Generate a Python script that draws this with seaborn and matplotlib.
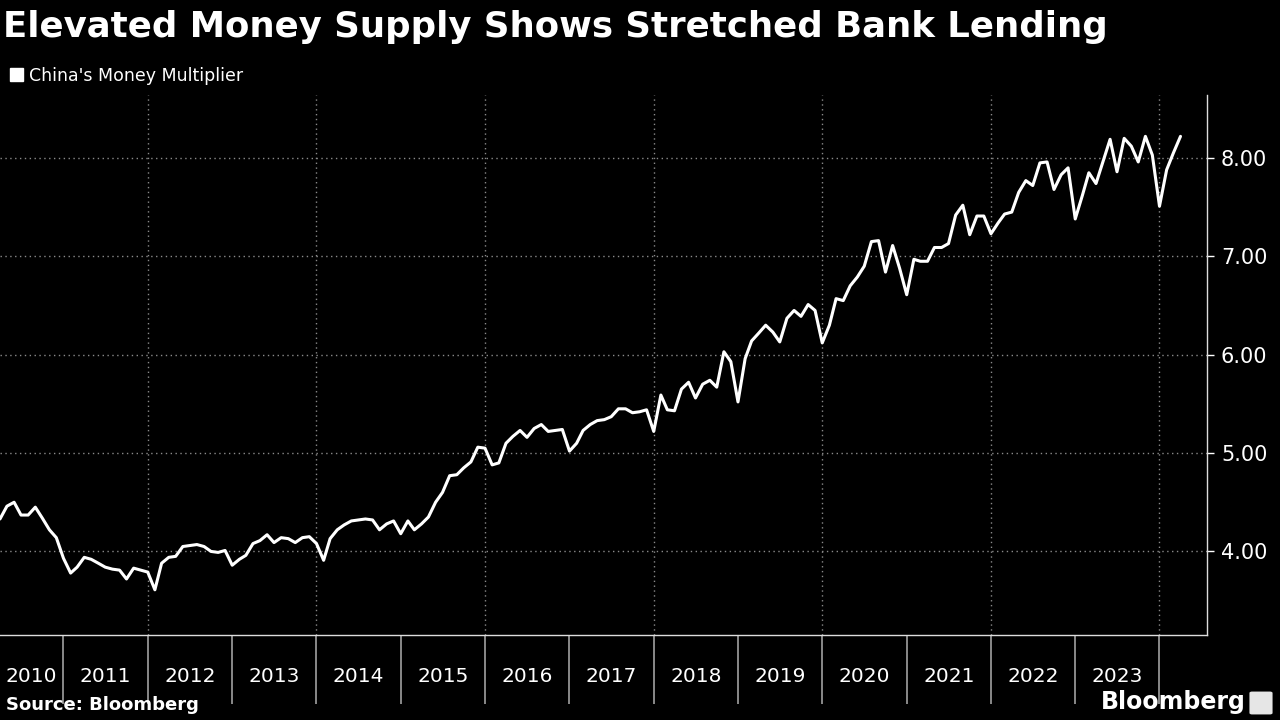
import pandas as pd
import matplotlib
matplotlib.use("Agg")
import matplotlib.pyplot as plt
from matplotlib.patches import Patch, FancyBboxPatch
import seaborn as sns

TITLE = "Elevated Money Supply Shows Stretched Bank Lending"
SERIES_NAME = "China's Money Multiplier"
SOURCE = "Source: Bloomberg"

# monthly readings, first one is April 2010
START_MONTH = "2010-04-01"
multiplier = [
    4.33, 4.46, 4.50, 4.37, 4.37, 4.45, 4.34, 4.22, 4.14,                    # 2010 (Apr-Dec)
    3.93, 3.78, 3.84, 3.94, 3.92, 3.88, 3.84, 3.82, 3.81, 3.72, 3.83, 3.81,  # 2011
    3.79, 3.61, 3.88, 3.94, 3.95, 4.05, 4.06, 4.07, 4.05, 4.00, 3.99, 4.01,  # 2012
    3.86, 3.92, 3.96, 4.08, 4.11, 4.17, 4.09, 4.14, 4.13, 4.09, 4.14, 4.15,  # 2013
    4.08, 3.91, 4.13, 4.22, 4.27, 4.31, 4.32, 4.33, 4.32, 4.22, 4.28, 4.31,  # 2014
    4.18, 4.31, 4.22, 4.28, 4.35, 4.50, 4.60, 4.77, 4.78, 4.85, 4.91, 5.06,  # 2015
    5.05, 4.88, 4.90, 5.10, 5.17, 5.23, 5.16, 5.25, 5.29, 5.22, 5.23, 5.24,  # 2016
    5.02, 5.10, 5.23, 5.29, 5.33, 5.34, 5.37, 5.45, 5.45, 5.41, 5.42, 5.44,  # 2017
    5.22, 5.59, 5.44, 5.43, 5.65, 5.72, 5.56, 5.70, 5.74, 5.67, 6.03, 5.93,  # 2018
    5.52, 5.96, 6.14, 6.22, 6.30, 6.23, 6.13, 6.37, 6.45, 6.39, 6.51, 6.45,  # 2019
    6.12, 6.30, 6.57, 6.55, 6.70, 6.79, 6.90, 7.15, 7.16, 6.84, 7.11, 6.88,  # 2020
    6.61, 6.97, 6.95, 6.95, 7.09, 7.09, 7.13, 7.42, 7.52, 7.22, 7.41, 7.41,  # 2021
    7.23, 7.34, 7.43, 7.45, 7.65, 7.77, 7.72, 7.95, 7.96, 7.68, 7.83, 7.90,  # 2022
    7.38, 7.62, 7.85, 7.74, 7.96, 8.19, 7.86, 8.20, 8.12, 7.96, 8.22, 8.03,  # 2023
    7.51, 7.88, 8.05, 8.22,                                                  # 2024 (Jan-Apr)
]
year_labels = list(range(2010, 2024))
separator_years = list(range(2011, 2025))
grid_years = list(range(2012, 2025, 2))
y_ticks = [4.0, 5.0, 6.0, 7.0, 8.0]
x_range = ("2010-04-01", "2024-07-25")
y_range = (3.15, 8.64)

BG = "black"
FG = "white"
GRID = "#8a8a8a"

sns.set_theme(style="dark", rc={
    "axes.facecolor": BG, "figure.facecolor": BG, "savefig.facecolor": BG,
    "text.color": FG, "xtick.color": FG, "ytick.color": FG, "axes.edgecolor": FG,
    "xtick.bottom": True, "ytick.right": True,
})
plt.rcParams["font.family"] = ["DejaVu Sans"]


def main():
    df = pd.DataFrame({
        "date": pd.date_range(START_MONTH, periods=len(multiplier), freq="MS"),
        "value": multiplier,
    })

    fig = plt.figure(figsize=(12.8, 7.2), dpi=100)
    ax = fig.add_axes([0.0, 0.118, 0.943, 0.750])

    sns.lineplot(data=df, x="date", y="value", color=FG, lw=2.2, ax=ax, legend=False)

    x0, x1 = pd.Timestamp(x_range[0]), pd.Timestamp(x_range[1])
    ax.set_xlim(x0, x1)
    ax.set_ylim(*y_range)

    # dotted grid: every level on y, every second year on x
    ax.yaxis.grid(True, color=GRID, ls=(0, (1, 2.5)), lw=1)
    ax.xaxis.grid(False)
    for y in grid_years:
        ax.axvline(pd.Timestamp(y, 1, 1), color=GRID, ls=(0, (1, 2.5)), lw=1, zorder=0)

    # y axis on the right
    ax.yaxis.tick_right()
    ax.set_yticks(y_ticks)
    ax.set_yticklabels([f"{v:.2f}" for v in y_ticks])
    ax.tick_params(axis="y", right=True, length=5, width=1, color=FG, labelsize=15, pad=5)
    ax.set_xlabel("")
    ax.set_ylabel("")

    # year separators as long major ticks, year labels on minor ticks in the middle
    ax.set_xticks([pd.Timestamp(y, 1, 1) for y in separator_years])
    ax.set_xticklabels([])
    ax.tick_params(axis="x", which="major", bottom=True, length=50, width=1.2, color="#a0a0a0")
    mids = []
    for y in year_labels:
        a = max(pd.Timestamp(y, 1, 1), x0)
        b = min(pd.Timestamp(y + 1, 1, 1), x1)
        mids.append(a + (b - a) / 2)
    ax.set_xticks(mids, minor=True)
    ax.set_xticklabels([str(y) for y in year_labels], minor=True)
    ax.tick_params(axis="x", which="minor", bottom=True, length=0, pad=23, labelsize=14.5, labelcolor=FG)

    for side in ["left", "top"]:
        ax.spines[side].set_visible(False)
    for side in ["right", "bottom"]:
        ax.spines[side].set_color("#dddddd")
        ax.spines[side].set_linewidth(1)

    fig.text(0.002, 0.986, TITLE, fontsize=25.6, fontweight="bold", color=FG, va="top", ha="left")
    ax.legend(handles=[Patch(color=FG, label=SERIES_NAME)], loc="upper left",
              bbox_to_anchor=(0.0, 0.922), bbox_transform=fig.transFigure, frameon=False,
              handlelength=0.75, handleheight=0.75, handletextpad=0.3, fontsize=12.5, labelcolor=FG,
              borderaxespad=0.2)
    fig.text(0.005, 0.008, SOURCE, fontsize=13, fontweight="bold", color=FG, va="bottom", ha="left")
    fig.text(0.973, 0.008, "Bloomberg", fontsize=17, fontweight="bold", color=FG, va="bottom", ha="right")
    # small logo badge next to the wordmark
    fig.patches.append(FancyBboxPatch((1252 / 1280, 7 / 720), 18 / 1280, 20 / 720,
                                      boxstyle="round,pad=0.002", transform=fig.transFigure,
                                      facecolor="#e6e6e6", edgecolor="none"))

    fig.savefig("out.png", dpi=100)
    plt.close(fig)


if __name__ == "__main__":
    main()
